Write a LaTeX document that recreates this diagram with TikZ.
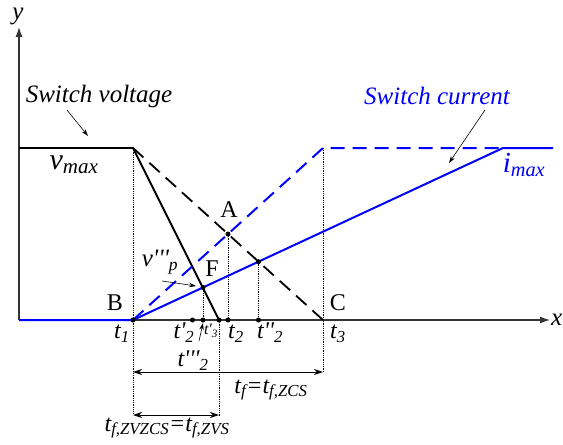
\documentclass[tikz,border=0pt]{standalone}
\usepackage{fontspec}
\setmainfont{Liberation Serif}
\usetikzlibrary{arrows.meta}
\definecolor{cblue}{RGB}{0,0,255}
\newcommand{\pr}{\textquotesingle}
\tikzset{
  lab/.style={font=\fontsize{25}{27}\selectfont\itshape, inner sep=0pt},
  labup/.style={font=\fontsize{24}{26}\selectfont, inner sep=0pt},
  tlab/.style={font=\fontsize{24}{26}\selectfont\itshape, inner sep=0pt},
  axis/.style={line width=1.1pt, draw=black!80, -{Latex[length=10pt,width=7pt]}},
  vline/.style={line width=1.8pt, black},
  iline/.style={line width=2pt, cblue},
  ddash/.style={dash pattern=on 14pt off 8pt},
  guide/.style={densely dotted, line width=0.8pt, black},
  dot/.style={circle, fill=black, inner sep=0pt, minimum size=5pt},
  dim/.style={line width=0.9pt, {Stealth[length=9pt,width=6pt]}-{Stealth[length=9pt,width=6pt]}},
  pointer/.style={line width=0.6pt, -{Stealth[length=7pt,width=4.5pt]}}
}
\begin{document}
\begin{tikzpicture}[x=1pt,y=-1pt]
\useasboundingbox (0,0) rectangle (563,445);
% key points
\coordinate (O) at (19,320);
\coordinate (Ytop) at (19,27);
\coordinate (Xend) at (550,320);
\coordinate (V0) at (19,148);
\coordinate (P) at (133,148);
\coordinate (Bp) at (133,320);
\coordinate (Cp) at (323,320);
\coordinate (Q) at (323,148);
\coordinate (T3p) at (219,320);
\coordinate (Imx) at (503,148);
\coordinate (Iend) at (553,148);
\coordinate (Ap) at (228,234);
\coordinate (Fp) at (203,287.5);
\coordinate (Gp) at (258.5,261.7);
\coordinate (T2a) at (192.5,320);
\coordinate (TFa) at (203,320);
\coordinate (TAa) at (228,320);
\coordinate (TGa) at (258.5,320);
\coordinate (Lb1) at (133,413);
\coordinate (Lb2) at (219,416);
\coordinate (Lc) at (323,372);
% guides
\draw[guide] (P) -- (Lb1);
\draw[guide] (T3p) -- (Lb2);
\draw[guide] (Q) -- (Lc);
\draw[guide] (Ap) -- (TAa);
\draw[guide] (Fp) -- (TFa);
\draw[guide] (Gp) -- (TGa);
% axes
\draw[axis] (O) -- (Ytop);
\draw[axis] (O) -- (Xend);
% voltage
\draw[vline] (V0) -- (P) -- (T3p);
\draw[vline, ddash] (P) -- (Cp);
% current
\draw[iline] (O) -- (Bp) -- (Imx) -- (Iend);
\draw[iline, ddash] (Bp) -- (Q) -- (Imx);
% dots
\foreach \p in {Bp,Ap,Fp,Gp,T2a,TFa,TAa,TGa,T3p}
  \node[dot] at (\p) {};
% dimension arrows
\draw[dim] (133,372) -- (Lc);
\draw[dim] (133,415) -- (219,415);
% labels
\node[lab] (ylab) at (18,16) {y};
\node[lab, anchor=west] (xlab) at (551,320) {x};
\node[lab] (sv) at (99,96) {Switch voltage};
\node[lab, text=cblue] (sc) at (437,96) {Switch current};
\node[font=\fontsize{30}{32}\selectfont\itshape, inner sep=0pt] (vmax) at (74,165) {v\textsubscript{max}};
\node[font=\fontsize{29}{31}\selectfont\itshape, inner sep=0pt, text=cblue] (imax) at (524,165) {i\textsubscript{max}};
\node[labup] (Bl) at (115,303) {B};
\node[labup] (Cl) at (338,303) {C};
\node[labup] (Al) at (229,210) {A};
\node[labup] (Fl) at (212,269) {F};
\node[lab] (vp) at (160,262) {v\pr\pr\pr\textsubscript{p}};
\node[tlab] (t1) at (122,334) {t\textsubscript{1}};
\node[tlab] (t2p) at (184,333) {t\pr\textsubscript{2}};
\node[font=\fontsize{16}{17}\selectfont\itshape, inner sep=0pt] (t3p) at (211,331) {t\pr\textsubscript{3}};
\node[tlab] (t2) at (236,334) {t\textsubscript{2}};
\node[tlab] (t2pp) at (270,333) {t\pr\pr\textsubscript{2}};
\node[tlab] (t3) at (338,334) {t\textsubscript{3}};
\node[tlab] (t2ppp) at (193,361) {t\pr\pr\pr\textsubscript{2}};
\node[tlab] (tf) at (271,390) {t\textsubscript{f}=t\textsubscript{f,ZCS}};
\node[tlab] (tfz) at (167,428) {t\textsubscript{f,ZVZCS}=t\textsubscript{f,ZVS}};
% pointers
\draw[pointer] (199,341) -- (203,323);
\draw[pointer] (67,110) -- (88,136);
\draw[pointer] (485,110) -- (449,163);
\draw[pointer] (162,281) -- (196,286);
\end{tikzpicture}
\end{document}
